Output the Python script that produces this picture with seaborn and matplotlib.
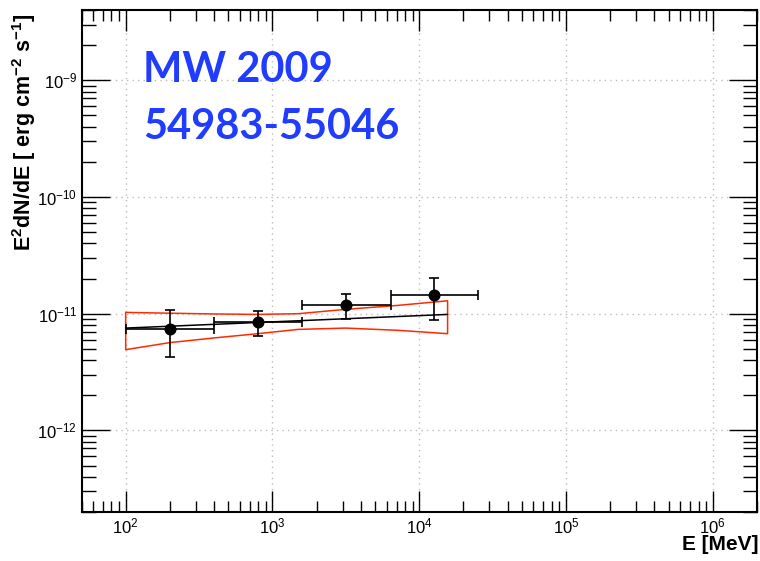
import numpy as np
import pandas as pd
import matplotlib
matplotlib.use("Agg")
import matplotlib.pyplot as plt
import matplotlib.ticker as mticker
import seaborn as sns

# ---- data ----
energy = [199, 800, 3150, 12540]
flux = [7.44e-12, 8.48e-12, 1.18e-11, 1.45e-11]
flux_hi = [1.07e-11, 1.05e-11, 1.47e-11, 2.03e-11]
flux_lo = [4.23e-12, 6.44e-12, 8.94e-12, 8.77e-12]
e_lo = [100, 398, 1585, 6370]
e_hi = [398, 1585, 6370, 25100]

fit_energy = [100, 15600]
fit_flux = [7.53e-12, 9.86e-12]

band_energy = [100, 199, 400, 793, 1500, 3150, 7240, 15600]
band_upper = [1.026e-11, 1.01e-11, 9.95e-12, 9.86e-12, 1.0e-11, 1.09e-11, 1.18e-11, 1.29e-11]
band_lower = [4.92e-12, 5.65e-12, 6.2e-12, 6.74e-12, 7.34e-12, 7.53e-12, 7.2e-12, 6.74e-12]

title_lines = ["MW 2009", "54983-55046"]
x_label = "E [MeV]"
y_label = r"E$^{\mathbf{2}}$dN/dE [ erg cm$^{\mathbf{-2}}$ s$^{\mathbf{-1}}$]"

# ---- style ----
sns.set_theme(style="ticks")
plt.rcParams["font.family"] = ["Liberation Sans", "DejaVu Sans"]
plt.rcParams["text.color"] = "black"
plt.rcParams["mathtext.fontset"] = "custom"
plt.rcParams["mathtext.rm"] = "Liberation Sans"
plt.rcParams["mathtext.bf"] = "Liberation Sans:bold"
plt.rcParams["mathtext.it"] = "Liberation Sans:italic"

fig = plt.figure(figsize=(7.6, 5.61), dpi=100)
ax = fig.add_axes([81.5 / 760, 1 - 512 / 561, (757 - 81.5) / 760, (512 - 10) / 561])
ax.set_xscale("log")
ax.set_yscale("log")
ax.set_xlim(50, 2e6)
ax.set_ylim(2e-13, 4e-9)

# grid
ax.grid(True, which="major", color="#bdbdbd", linestyle=(0, (1, 3)), linewidth=1.0)
ax.set_axisbelow(True)

# butterfly band (closed polygon)
band_df = pd.DataFrame({
    "E": band_energy + band_energy[::-1] + [band_energy[0]],
    "F": band_upper + band_lower[::-1] + [band_upper[0]],
})
sns.lineplot(data=band_df, x="E", y="F", sort=False, estimator=None,
             color="#ff2a00", linewidth=1.1, ax=ax)

# fit line
fit_df = pd.DataFrame({"E": fit_energy, "F": fit_flux})
sns.lineplot(data=fit_df, x="E", y="F", sort=False, estimator=None,
             color="black", linewidth=1.1, ax=ax)

# error bars
e = np.array(energy)
f = np.array(flux)
xerr = [e - np.array(e_lo), np.array(e_hi) - e]
yerr = [f - np.array(flux_lo), np.array(flux_hi) - f]
ax.errorbar(e, f, xerr=xerr, yerr=yerr, fmt="none", ecolor="black",
            elinewidth=1.2, capsize=3.5, capthick=1.2, zorder=3)

pts_df = pd.DataFrame({"E": energy, "F": flux})
sns.scatterplot(data=pts_df, x="E", y="F", color="black", s=75,
                edgecolor="black", linewidth=0, ax=ax, zorder=4)

# ticks
ax.xaxis.set_major_locator(mticker.LogLocator(base=10, numticks=20))
ax.xaxis.set_minor_locator(mticker.LogLocator(base=10, subs=np.arange(2, 10), numticks=100))
ax.yaxis.set_major_locator(mticker.LogLocator(base=10, numticks=20))
ax.yaxis.set_minor_locator(mticker.LogLocator(base=10, subs=np.arange(2, 10), numticks=100))
ax.xaxis.set_minor_formatter(mticker.NullFormatter())
ax.yaxis.set_minor_formatter(mticker.NullFormatter())
ax.tick_params(axis="both", which="both", direction="in", top=True, right=True,
               colors="black", labelcolor="black", labelsize=12)
ax.tick_params(axis="x", which="major", length=15, width=1.0, pad=3)
ax.tick_params(axis="x", which="minor", length=8, width=1.0)
ax.tick_params(axis="y", which="major", length=20, width=1.0, pad=3)
ax.tick_params(axis="y", which="minor", length=10, width=1.0)
for sp in ax.spines.values():
    sp.set_color("black")
    sp.set_linewidth(1.5)

ax.set_xlabel("")
ax.set_ylabel("")
ax.xaxis.get_offset_text().set_visible(False)
ax.yaxis.get_offset_text().set_visible(False)
fig.text(758 / 760, 1 - 550 / 561, x_label, ha="right", va="baseline",
         fontsize=15, fontweight="bold", color="black")
fig.text(24 / 760, 1 - 14 / 561, y_label, ha="center", va="top", rotation=90,
         fontsize=15.5, fontweight="bold", color="black")

# annotation text
ax.text(0.091, 0.857, title_lines[0], transform=ax.transAxes, ha="left",
        va="baseline", fontsize=30, fontweight="bold", color="#1f3cff",
        family=["Lato", "DejaVu Sans"])
ax.text(0.091, 0.743, title_lines[1], transform=ax.transAxes, ha="left",
        va="baseline", fontsize=30, fontweight="bold", color="#1f3cff",
        family=["Lato", "DejaVu Sans"])

fig.savefig("out.png", dpi=100)
